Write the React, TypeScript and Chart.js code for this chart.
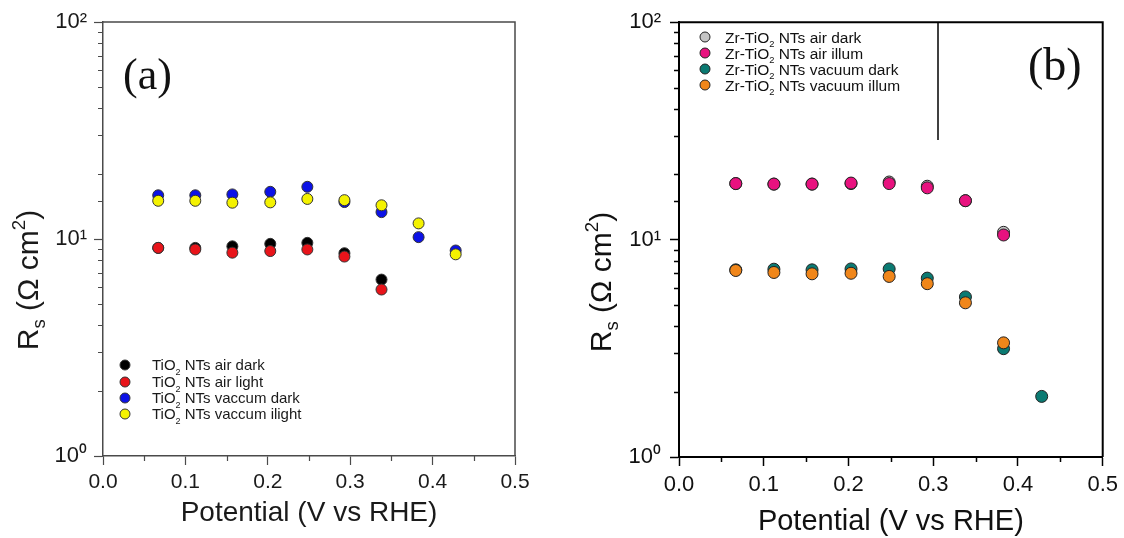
import React, { useEffect, useRef } from 'react';
import { Chart, registerables } from 'chart.js';

Chart.register(...registerables);

// ---------- data ----------
const potentials = [0.067, 0.112, 0.157, 0.203, 0.248, 0.293, 0.338, 0.383, 0.428];

// (a) TiO2 NTs
const tiAirDark = [9.1, 9.1, 9.25, 9.5, 9.6, 8.6, 6.5];
const tiAirLight = [9.1, 8.95, 8.65, 8.8, 8.95, 8.3, 5.85];
const tiVacDark = [15.9, 15.9, 16.05, 16.5, 17.4, 14.8, 13.3, 10.2, 8.85];
const tiVacLight = [15.0, 15.0, 14.7, 14.75, 15.3, 15.1, 14.3, 11.8, 8.5];

// (b) Zr-TiO2 NTs
const zrAirDark = [18.1, 18.0, 18.0, 18.1, 18.4, 17.6, 15.1, 10.8];
const zrAirIllum = [18.1, 18.0, 18.0, 18.2, 18.1, 17.3, 15.1, 10.5];
const zrVacDark = [7.26, 7.31, 7.26, 7.33, 7.33, 6.65, 5.45, 3.15, 1.9];
const zrVacIllum = [7.21, 7.06, 6.96, 7.0, 6.77, 6.27, 5.12, 3.35];

const xTitle = 'Potential (V vs RHE)';
const SUP: Record<number, string> = { 0: '\u2070', 1: '\u00B9', 2: '\u00B2' };

const SANS = "'Liberation Sans', Arial, sans-serif";
const SERIF = "'Liberation Serif', 'Times New Roman', serif";
const H = 538;

type Series = { pre: string; sub: string; post: string; values: number[]; color: string; order: number };

type PanelSpec = {
  left: number;
  width: number;
  area: { left: number; right: number; top: number; bottom: number };
  series: Series[];
  axisColor: string;
  axisWidth: number;
  tickWidth: number;
  majorLen: number;
  minorLen: number;
  textColor: string;
  tickFont: number;
  yTickFont: number;
  xTickPad: number;
  yTickPad: number;
  xTitleFont: number;
  xTitlePad: number;
  yTitle: { x: number; y: number; size: number };
  radius: number;
  edge: string;
  legend: { markerX: number; textX: number; rows: number[]; font: number; radius: number; box?: { right: number; bottom?: number } };
  tag: { text: string; x: number; baseline: number; size: number };
};

const panelA: PanelSpec = {
  left: 0,
  width: 560,
  area: { left: 103, right: 515, top: 22, bottom: 456 },
  series: [
    { pre: 'TiO', sub: '2', post: ' NTs air dark', values: tiAirDark, color: '#000000', order: 3 },
    { pre: 'TiO', sub: '2', post: ' NTs air light', values: tiAirLight, color: '#e8141a', order: 2 },
    { pre: 'TiO', sub: '2', post: ' NTs vaccum dark', values: tiVacDark, color: '#0c12e6', order: 1 },
    { pre: 'TiO', sub: '2', post: ' NTs vaccum ilight', values: tiVacLight, color: '#f4f200', order: 0 },
  ],
  axisColor: '#4a4a4a',
  axisWidth: 1.5,
  tickWidth: 1.2,
  majorLen: 9,
  minorLen: 5,
  textColor: '#1a1a1a',
  tickFont: 21,
  yTickFont: 22,
  xTickPad: 5,
  yTickPad: 7,
  xTitleFont: 28,
  xTitlePad: 11,
  yTitle: { x: 38, y: 280, size: 30 },
  radius: 5.5,
  edge: '#333333',
  legend: { markerX: 125, textX: 152, rows: [365, 382, 398, 414], font: 15, radius: 5 },
  tag: { text: '(a)', x: 123, baseline: 89, size: 44 },
};

const panelB: PanelSpec = {
  left: 560,
  width: 564,
  area: { left: 119, right: 544, top: 22, bottom: 457 },
  series: [
    { pre: 'Zr-TiO', sub: '2', post: ' NTs air dark', values: zrAirDark, color: '#c4c4c4', order: 3 },
    { pre: 'Zr-TiO', sub: '2', post: ' NTs air illum', values: zrAirIllum, color: '#e8127f', order: 1 },
    { pre: 'Zr-TiO', sub: '2', post: ' NTs vacuum dark', values: zrVacDark, color: '#0b7a72', order: 2 },
    { pre: 'Zr-TiO', sub: '2', post: ' NTs vacuum illum', values: zrVacIllum, color: '#f0861a', order: 0 },
  ],
  axisColor: '#000000',
  axisWidth: 2,
  tickWidth: 1.5,
  majorLen: 9,
  minorLen: 5,
  textColor: '#111111',
  tickFont: 22,
  yTickFont: 22,
  xTickPad: 6,
  yTickPad: 9,
  xTitleFont: 29,
  xTitlePad: 2,
  yTitle: { x: 51, y: 282, size: 30 },
  radius: 6,
  edge: '#222222',
  legend: { markerX: 145, textX: 165, rows: [37, 53, 69, 85], font: 15.5, radius: 5, box: { right: 378 } },
  tag: { text: '(b)', x: 468, baseline: 80, size: 46 },
};

function isPow10(v: number) {
  const l = Math.log10(v);
  return Math.abs(l - Math.round(l)) < 1e-9;
}
function isTenth(v: number) {
  return Math.abs(v * 10 - Math.round(v * 10)) < 1e-6;
}

type Part = { t: string; scale: number; dy: number };

function measureParts(ctx: CanvasRenderingContext2D, parts: Part[], size: number, family: string) {
  return parts.map((p) => {
    ctx.font = `${size * p.scale}px ${family}`;
    return ctx.measureText(p.t).width;
  });
}

function drawParts(ctx: CanvasRenderingContext2D, parts: Part[], x: number, y: number, size: number, family: string) {
  const w = measureParts(ctx, parts, size, family);
  let cx = x;
  parts.forEach((p, i) => {
    ctx.font = `${size * p.scale}px ${family}`;
    ctx.fillText(p.t, cx, y + p.dy * size);
    cx += w[i];
  });
}

function decorPlugin(s: PanelSpec) {
  return {
    id: 'decor' + s.left,
    afterDraw(chart: any) {
      const ctx: CanvasRenderingContext2D = chart.ctx;
      const { left, right, top, bottom } = chart.chartArea;
      ctx.save();
      // frame top and right
      ctx.strokeStyle = s.axisColor;
      ctx.lineWidth = s.axisWidth;
      ctx.beginPath();
      ctx.moveTo(left, top);
      ctx.lineTo(right, top);
      ctx.lineTo(right, bottom);
      ctx.stroke();

      // minor ticks
      ctx.lineWidth = s.tickWidth;
      const xs = chart.scales.x;
      const ys = chart.scales.y;
      ctx.beginPath();
      xs.ticks.forEach((t: any) => {
        if (!isTenth(t.value)) {
          const px = Math.round(xs.getPixelForValue(t.value)) + 0.5;
          ctx.moveTo(px, bottom);
          ctx.lineTo(px, bottom + s.minorLen);
        }
      });
      ys.ticks.forEach((t: any) => {
        if (!isPow10(t.value)) {
          const py = Math.round(ys.getPixelForValue(t.value)) + 0.5;
          ctx.moveTo(left - s.minorLen, py);
          ctx.lineTo(left, py);
        }
      });
      ctx.stroke();

      // y title
      ctx.fillStyle = s.textColor;
      ctx.textBaseline = 'alphabetic';
      ctx.textAlign = 'left';
      const yParts: Part[] = [
        { t: 'R', scale: 1, dy: 0 },
        { t: 's', scale: 0.62, dy: 0.22 },
        { t: ' (\u03A9 cm', scale: 1, dy: 0 },
        { t: '2', scale: 0.62, dy: -0.42 },
        { t: ')', scale: 1, dy: 0 },
      ];
      const yw = measureParts(ctx, yParts, s.yTitle.size, SANS).reduce((a, b) => a + b, 0);
      ctx.save();
      ctx.translate(s.yTitle.x, s.yTitle.y);
      ctx.rotate(-Math.PI / 2);
      drawParts(ctx, yParts, -yw / 2, 0, s.yTitle.size, SANS);
      ctx.restore();

      // legend
      const lg = s.legend;
      s.series.forEach((se, i) => {
        const ry = lg.rows[i];
        ctx.beginPath();
        ctx.arc(lg.markerX, ry, lg.radius, 0, Math.PI * 2);
        ctx.fillStyle = se.color;
        ctx.fill();
        ctx.lineWidth = 1;
        ctx.strokeStyle = s.edge;
        ctx.stroke();
        ctx.fillStyle = s.textColor;
        drawParts(
          ctx,
          [
            { t: se.pre, scale: 1, dy: 0 },
            { t: se.sub, scale: 0.6, dy: 0.28 },
            { t: se.post, scale: 1, dy: 0 },
          ],
          lg.textX,
          ry + lg.font * 0.36,
          lg.font,
          SANS
        );
      });
      if (lg.box) {
        ctx.strokeStyle = s.axisColor;
        ctx.lineWidth = 1.5;
        ctx.beginPath();
        ctx.moveTo(lg.box.right, top);
        ctx.lineTo(lg.box.right, lg.box.bottom ?? 140);
        if (lg.box.bottom) ctx.lineTo(left, lg.box.bottom);
        ctx.stroke();
      }

      // panel tag
      ctx.fillStyle = '#111111';
      ctx.font = `${s.tag.size}px ${SERIF}`;
      ctx.fillText(s.tag.text, s.tag.x, s.tag.baseline);
      ctx.restore();
    },
  };
}

function buildConfig(s: PanelSpec): any {
  return {
    type: 'scatter',
    data: {
      datasets: s.series.map((se) => ({
        label: se.pre + '\u2082' + se.post,
        data: se.values.map((y, i) => ({ x: potentials[i], y })),
        backgroundColor: se.color,
        borderColor: s.edge,
        borderWidth: 1,
        pointRadius: s.radius,
        pointHoverRadius: s.radius,
        order: se.order,
        showLine: false,
      })),
    },
    options: {
      responsive: false,
      animation: false,
      devicePixelRatio: 1,
      events: [],
      layout: { padding: { left: 0, top: s.area.top, right: s.width - s.area.right, bottom: 0 } },
      plugins: { legend: { display: false }, tooltip: { enabled: false }, title: { display: false } },
      scales: {
        x: {
          type: 'linear',
          min: 0,
          max: 0.5,
          ticks: {
            stepSize: 0.05,
            autoSkip: false,
            maxRotation: 0,
            padding: s.xTickPad,
            color: s.textColor,
            font: { family: SANS, size: s.tickFont },
            callback: (v: number) => (isTenth(v) ? Number(v).toFixed(1) : ''),
          },
          grid: {
            display: true,
            drawOnChartArea: false,
            drawTicks: true,
            tickLength: s.majorLen,
            tickWidth: s.tickWidth,
            tickColor: (c: any) => (c.tick && isTenth(c.tick.value) ? s.axisColor : 'rgba(0,0,0,0)'),
          },
          border: { display: true, color: s.axisColor, width: s.axisWidth },
          title: {
            display: true,
            text: xTitle,
            color: s.textColor,
            font: { family: SANS, size: s.xTitleFont, lineHeight: 1 },
            padding: { top: 0, bottom: s.xTitlePad },
          },
          afterFit: (sc: any) => {
            sc.height = H - s.area.bottom;
          },
        },
        y: {
          type: 'logarithmic',
          min: 1,
          max: 100,
          ticks: {
            autoSkip: false,
            padding: s.yTickPad,
            color: s.textColor,
            font: { family: SANS, size: s.yTickFont },
            callback: (v: number) => (isPow10(v) ? '10' + SUP[Math.round(Math.log10(v))] : ''),
          },
          grid: {
            display: true,
            drawOnChartArea: false,
            drawTicks: true,
            tickLength: s.majorLen,
            tickWidth: s.tickWidth,
            tickColor: (c: any) => (c.tick && isPow10(c.tick.value) ? s.axisColor : 'rgba(0,0,0,0)'),
          },
          border: { display: true, color: s.axisColor, width: s.axisWidth },
          afterFit: (sc: any) => {
            sc.width = s.area.left;
          },
        },
      },
    },
    plugins: [decorPlugin(s)],
  };
}

function Panel({ spec }: { spec: PanelSpec }) {
  const ref = useRef<HTMLCanvasElement>(null);
  useEffect(() => {
    const chart = new Chart(ref.current as HTMLCanvasElement, buildConfig(spec));
    return () => chart.destroy();
  }, [spec]);
  return (
    <canvas
      ref={ref}
      width={spec.width}
      height={H}
      style={{ position: 'absolute', left: spec.left, top: 0, width: spec.width, height: H }}
    />
  );
}

export default function App() {
  return (
    <div style={{ position: 'fixed', left: 0, top: 0, width: 1124, height: H, background: '#ffffff', overflow: 'hidden' }}>
      <Panel spec={panelA} />
      <Panel spec={panelB} />
    </div>
  );
}
